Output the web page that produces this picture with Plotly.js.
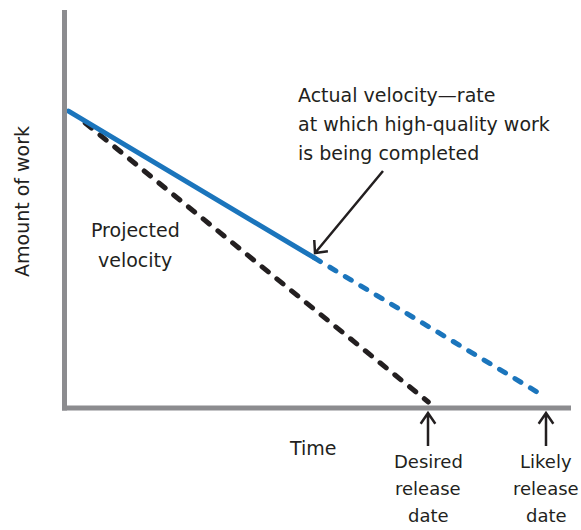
<!DOCTYPE html>
<html>
<head>
<meta charset="utf-8">
<script src="https://cdn.plot.ly/plotly-3.0.1.min.js"></script>
<style>
  html, body { margin: 0; padding: 0; background: #fff; }
  #chart { width: 581px; height: 530px; }
  #chart .js-line { stroke-linecap: round; }
</style>
</head>
<body>
<div id="chart"></div>
<script>
// ---- data (time on x, amount of work on y) ----
const projectedX = [0.4, 7.18];
const projectedY = [71.6, 1.5];
const actualX = [0.07, 4.93];
const actualY = [74.6, 37.7];
const likelyX = [4.93, 9.49];
const likelyY = [37.7, 2.8];

const xTitle = 'Time';
const yTitle = 'Amount of work';
const actualLabel = ['Actual velocity\u2014rate', 'at which high-quality work', 'is being completed'];
const projectedLabel = ['Projected', 'velocity'];
const desiredLabel = ['Desired', 'release', 'date'];
const likelyLabel = ['Likely', 'release', 'date'];

// ---- layout geometry ----
const W = 581, H = 530;
const M = { l: 65, r: 10, t: 10, b: 122 };
const PW = W - M.l - M.r, PH = H - M.t - M.b;
const px = x => (x - M.l) / PW;          // pixel -> paper x
const py = y => (H - M.b - y) / PH;      // pixel -> paper y

const ink = '#231f20';
const blue = '#1b75bc';
const axisGray = '#8c8c8f';
const FONT = 'DejaVu Sans, sans-serif';

const traces = [
  { x: projectedX, y: projectedY, mode: 'lines', name: 'Projected velocity',
    line: { color: ink, width: 5, dash: '8px,11px' }, hoverinfo: 'skip' },
  { x: likelyX, y: likelyY, mode: 'lines', name: 'Likely',
    line: { color: blue, width: 5, dash: '7px,11px' }, hoverinfo: 'skip' },
  { x: actualX, y: actualY, mode: 'lines', name: 'Actual velocity',
    line: { color: blue, width: 5 }, hoverinfo: 'skip' }
];

function arrowPath(tx, ty, fx, fy, arm, ang) {
  const a = Math.atan2(fy - ty, fx - tx);
  const a1 = a + ang, a2 = a - ang;
  const p = (x, y) => px(x) + ',' + py(y);
  return 'M' + p(fx, fy) + ' L' + p(tx, ty) +
    ' M' + p(tx + arm * Math.cos(a1), ty + arm * Math.sin(a1)) +
    ' L' + p(tx, ty) +
    ' L' + p(tx + arm * Math.cos(a2), ty + arm * Math.sin(a2));
}

const shapes = [
  { type: 'line', xref: 'paper', yref: 'paper', x0: px(64.5), x1: px(64.5), y0: py(410.5), y1: py(10),
    line: { color: axisGray, width: 5 } },
  { type: 'line', xref: 'paper', yref: 'paper', x0: px(62), x1: px(571), y0: py(408), y1: py(408),
    line: { color: axisGray, width: 5 } },
  { type: 'path', xref: 'paper', yref: 'paper', path: arrowPath(315, 253, 383, 171, 13, 0.75),
    line: { color: ink, width: 2.5 } },
  { type: 'path', xref: 'paper', yref: 'paper', path: arrowPath(428, 413, 428, 446, 13, 0.6),
    line: { color: ink, width: 2.5 } },
  { type: 'path', xref: 'paper', yref: 'paper', path: arrowPath(546, 413, 546, 446, 13, 0.6),
    line: { color: ink, width: 2.5 } }
];

function labelLines(lines, x, yMid, anchor, size, step) {
  const n = lines.length;
  return lines.map((t, i) => ({
    xref: 'paper', yref: 'paper', x: px(x), y: py(yMid + (i - (n - 1) / 2) * step),
    xanchor: anchor, yanchor: 'middle', text: t, showarrow: false, borderpad: 0,
    font: { family: FONT, size: size, color: ink }
  }));
}

const annotations = [].concat(
  labelLines(actualLabel, 297, 124, 'left', 19, 29),
  labelLines(projectedLabel, 135, 245, 'center', 19, 29),
  labelLines(desiredLabel, 428, 488, 'center', 18, 27),
  labelLines(likelyLabel, 546, 488, 'center', 18, 27),
  labelLines([xTitle], 313, 448, 'center', 19, 29),
  labelLines([yTitle], 22, 202, 'center', 19, 29).map(a => Object.assign(a, { textangle: -90 }))
);

const layout = {
  width: W, height: H,
  margin: M,
  paper_bgcolor: '#fff', plot_bgcolor: '#fff',
  showlegend: false,
  xaxis: { range: [0, 10], showgrid: false, zeroline: false, showline: false,
           showticklabels: false, ticks: '', fixedrange: true },
  yaxis: { range: [0, 100], showgrid: false, zeroline: false, showline: false,
           showticklabels: false, ticks: '', fixedrange: true },
  shapes: shapes,
  annotations: annotations
};

Plotly.newPlot('chart', traces, layout, { staticPlot: true, displayModeBar: false });
</script>
</body>
</html>
